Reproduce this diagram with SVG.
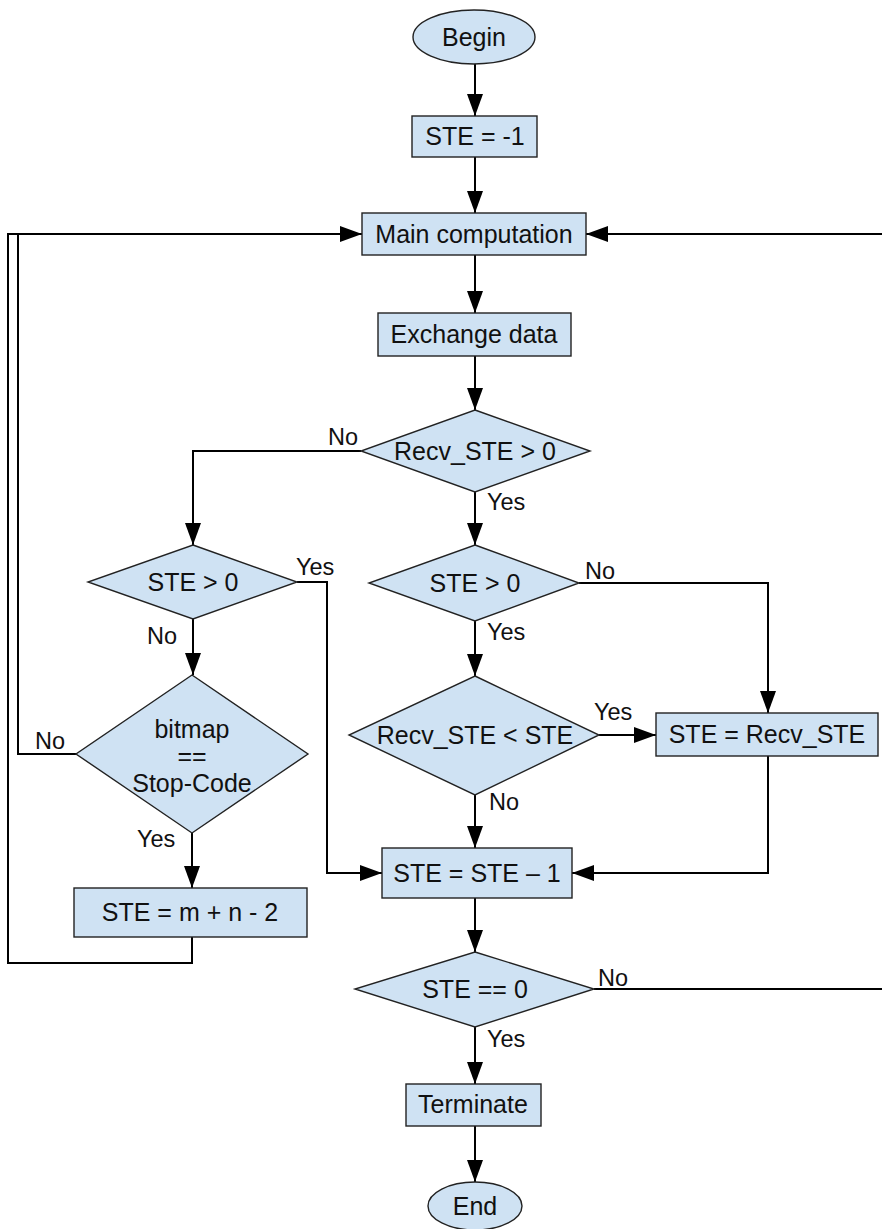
<svg xmlns="http://www.w3.org/2000/svg" width="882" height="1229" viewBox="0 0 882 1229">
  <defs>
    <marker id="arrow" markerUnits="userSpaceOnUse" markerWidth="22" markerHeight="16" refX="22" refY="8" orient="auto">
      <path d="M0,0 L22,8 L0,16 z" fill="#000"/>
    </marker>
    <style>
      .box { fill: #cfe2f3; stroke: #222; stroke-width: 1.4; }
      .edge { fill: none; stroke: #000; stroke-width: 2; }
      .arr { marker-end: url(#arrow); }
      text { font-family: "Liberation Sans", Arial, sans-serif; fill: #111; }
      .node-text { font-size: 25px; text-anchor: middle; }
      .label { font-size: 23.5px; }
    </style>
  </defs>
  <rect width="882" height="1229" fill="#fff"/>

  <!-- connectors -->
  <g id="connectors">
    <line class="edge arr" x1="475" y1="64" x2="475" y2="116"/>
    <line class="edge arr" x1="475" y1="157" x2="475" y2="213"/>
    <line class="edge arr" x1="475" y1="255" x2="475" y2="313"/>
    <line class="edge arr" x1="475" y1="356" x2="475" y2="410"/>
    <!-- outer loop back into main computation -->
    <polyline class="edge arr" points="192,937 192,963 8,963 8,234 362,234"/>
    <polyline class="edge" points="76,754 18,754 18,234"/>
    <!-- incoming from the right -->
    <line class="edge arr" x1="882" y1="234" x2="586" y2="234"/>
    <!-- Recv_STE > 0 -->
    <polyline class="edge arr" points="361,451 193,451 193,545"/>
    <line class="edge arr" x1="475" y1="492" x2="475" y2="545"/>
    <!-- left STE > 0 -->
    <polyline class="edge arr" points="297,582 327,582 327,873 382,873"/>
    <line class="edge arr" x1="193" y1="619" x2="193" y2="675"/>
    <!-- bitmap == Stop-Code -->
    <line class="edge arr" x1="192" y1="833" x2="192" y2="888"/>
    <!-- right STE > 0 -->
    <polyline class="edge arr" points="579,583 768,583 768,713"/>
    <line class="edge arr" x1="475" y1="621" x2="475" y2="676"/>
    <!-- Recv_STE < STE -->
    <line class="edge arr" x1="599" y1="735" x2="656" y2="735"/>
    <line class="edge arr" x1="475" y1="795" x2="475" y2="848"/>
    <!-- STE = Recv_STE to STE = STE - 1 -->
    <polyline class="edge arr" points="768,756 768,873 572,873"/>
    <!-- STE = STE - 1 to STE == 0 -->
    <line class="edge arr" x1="475" y1="898" x2="475" y2="952"/>
    <!-- STE == 0 -->
    <line class="edge" x1="594" y1="989" x2="882" y2="989"/>
    <line class="edge arr" x1="475" y1="1027" x2="475" y2="1084"/>
    <line class="edge arr" x1="475" y1="1126" x2="475" y2="1182"/>
  </g>

  <g id="begin">
    <ellipse class="box" cx="474" cy="37" rx="61" ry="27"/>
    <text class="node-text" x="474" y="46">Begin</text>
  </g>
  <g id="init">
    <rect class="box" x="412" y="116" width="125" height="41"/>
    <text class="node-text" x="475" y="145">STE = -1</text>
  </g>
  <g id="main-computation">
    <rect class="box" x="362" y="213" width="224" height="42"/>
    <text class="node-text" x="474" y="243">Main computation</text>
  </g>
  <g id="exchange-data">
    <rect class="box" x="378" y="313" width="193" height="43"/>
    <text class="node-text" x="474" y="343">Exchange data</text>
  </g>
  <g id="recv-gt-0">
    <polygon class="box" points="475,410 590,451 475,492 361,451"/>
    <text class="node-text" x="475" y="460">Recv_STE &gt; 0</text>
  </g>
  <g id="ste-gt-0-left">
    <polygon class="box" points="193,545 297,582 193,619 88,582"/>
    <text class="node-text" x="193" y="591">STE &gt; 0</text>
  </g>
  <g id="ste-gt-0-right">
    <polygon class="box" points="475,545 579,583 475,621 369,583"/>
    <text class="node-text" x="475" y="592">STE &gt; 0</text>
  </g>
  <g id="bitmap-check">
    <polygon class="box" points="192,675 308,754 192,833 76,754"/>
    <text class="node-text" x="192" y="738">bitmap</text>
    <text class="node-text" x="192" y="765">==</text>
    <text class="node-text" x="192" y="792">Stop-Code</text>
  </g>
  <g id="recv-lt-ste">
    <polygon class="box" points="475,676 599,735 475,795 349,735"/>
    <text class="node-text" x="475" y="744">Recv_STE &lt; STE</text>
  </g>
  <g id="set-recv">
    <rect class="box" x="656" y="713" width="222" height="43"/>
    <text class="node-text" x="767" y="743">STE = Recv_STE</text>
  </g>
  <g id="reset-ste">
    <rect class="box" x="74" y="888" width="233" height="49"/>
    <text class="node-text" x="190" y="921">STE = m + n - 2</text>
  </g>
  <g id="decrement">
    <rect class="box" x="382" y="848" width="190" height="50"/>
    <text class="node-text" x="477" y="882">STE = STE – 1</text>
  </g>
  <g id="ste-eq-0">
    <polygon class="box" points="475,952 594,989 475,1027 355,989"/>
    <text class="node-text" x="475" y="998">STE == 0</text>
  </g>
  <g id="terminate">
    <rect class="box" x="406" y="1084" width="135" height="42"/>
    <text class="node-text" x="473" y="1113">Terminate</text>
  </g>
  <g id="end">
    <ellipse class="box" cx="475" cy="1206" rx="47" ry="24"/>
    <text class="node-text" x="475" y="1215">End</text>
  </g>

  <!-- branch labels -->
  <g id="labels">
    <text class="label" x="328" y="445">No</text>
    <text class="label" x="487" y="510">Yes</text>
    <text class="label" x="296" y="575">Yes</text>
    <text class="label" x="147" y="644">No</text>
    <text class="label" x="585" y="579">No</text>
    <text class="label" x="487" y="640">Yes</text>
    <text class="label" x="35" y="749">No</text>
    <text class="label" x="594" y="720">Yes</text>
    <text class="label" x="489" y="810">No</text>
    <text class="label" x="137" y="847">Yes</text>
    <text class="label" x="598" y="986">No</text>
    <text class="label" x="487" y="1047">Yes</text>
  </g>
</svg>
